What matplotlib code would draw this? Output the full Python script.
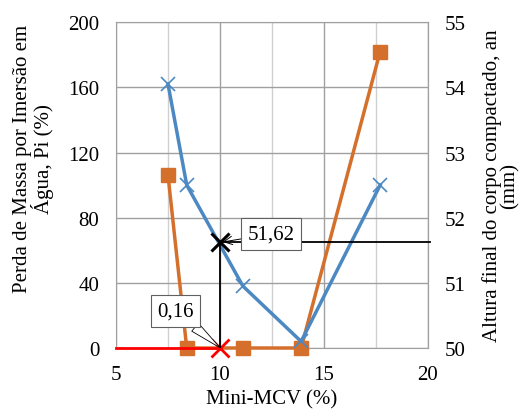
import matplotlib
matplotlib.use("Agg")
import matplotlib.pyplot as plt

plt.rcParams['font.family'] = ['Liberation Serif', 'DejaVu Serif']

# ---------------- data ----------------
mcv = [7.5, 8.4, 11.1, 13.9, 17.7]
perda = [106, 0, 0, 0, 182]          # Pi (%), left axis
altura = [54.05, 52.5, 50.95, 50.1, 52.5]  # an (mm), right axis

mcv_sel = 10.0
pi_sel = 0.16
an_sel = 51.62

orange = '#d4702b'
blue = '#4c89c3'
fs = 15

fig = plt.figure(figsize=(5.31, 4.14), dpi=100)
ax = fig.add_axes([0.2185, 0.157, 0.5875, 0.787])
ax2 = ax.twinx()

ax.set_xlim(5, 20)
ax.set_ylim(0, 200)
ax2.set_ylim(50, 55)
ax.set_xticks([5, 10, 15, 20])
ax.set_xticks([7.5, 12.5, 17.5], minor=True)
ax.set_yticks(range(0, 201, 40))
ax2.set_yticks(range(50, 56))

ax.grid(True, which='major', color='#a0a0a0', lw=1.0)
ax.grid(True, which='minor', axis='x', color='#d0d0d0', lw=1.0)
ax.set_axisbelow(True)
for s in ax.spines.values():
    s.set_color('#a0a0a0')
for k in ('left', 'top', 'bottom'):
    ax2.spines[k].set_visible(False)
ax2.spines['right'].set_color('#a0a0a0')
for a in (ax, ax2):
    a.tick_params(length=0, labelsize=fs, pad=12, which='both')

ax.plot(mcv, perda, color=orange, lw=2.5, marker='s', ms=10.5, zorder=3,
        clip_on=False)
ax2.plot(mcv, altura, color=blue, lw=2.5, marker='x', ms=10, mew=1.2,
         zorder=4, clip_on=False)

# reference lines at Mini-MCV = 10
ax.plot([5, mcv_sel], [pi_sel, pi_sel], color='red', lw=2, zorder=5,
        clip_on=False)
ax.plot([mcv_sel], [pi_sel], color='red', marker='x', ms=13, mew=2,
        zorder=6, clip_on=False)
ax2.plot([mcv_sel, mcv_sel], [50, an_sel], color='black', lw=1.3, zorder=5)
ax2.plot([mcv_sel, 20.1], [an_sel, an_sel], color='black', lw=1.3, zorder=5,
         clip_on=False)
ax2.plot([mcv_sel], [an_sel], color='black', marker='x', ms=13, mew=2.2,
         zorder=6)

ax2.annotate('51,62', xy=(mcv_sel, an_sel), xytext=(12.45, 51.75),
             fontsize=fs, ha='center', va='center', zorder=7,
             bbox=dict(boxstyle='square,pad=0.3', fc='white', ec='#606060',
                       lw=0.8),
             arrowprops=dict(arrowstyle='->', color='black', lw=0.7,
                             shrinkA=0, shrinkB=2))
ax.annotate('0,16', xy=(mcv_sel, pi_sel), xytext=(7.86, 22.7),
            fontsize=fs, ha='center', va='center', zorder=7,
            bbox=dict(boxstyle='square,pad=0.3', fc='white', ec='#606060',
                      lw=0.8),
            arrowprops=dict(arrowstyle='wedge,tail_width=0.5', fc='white',
                            ec='black', lw=0.6, shrinkA=0, shrinkB=0))

ax.set_xlabel('Mini-MCV (%)', fontsize=fs, labelpad=4)
ax.set_ylabel('Perda de Massa por Imersão em\nÁgua, Pi (%)', fontsize=fs,
              linespacing=0.9)
ax.yaxis.set_label_coords(-0.2, 0.583)
ax2.set_ylabel('Altura final do corpo compactado, an\n(mm)', fontsize=fs,
               labelpad=12, linespacing=0.9)

fig.savefig('out.png', dpi=100)
